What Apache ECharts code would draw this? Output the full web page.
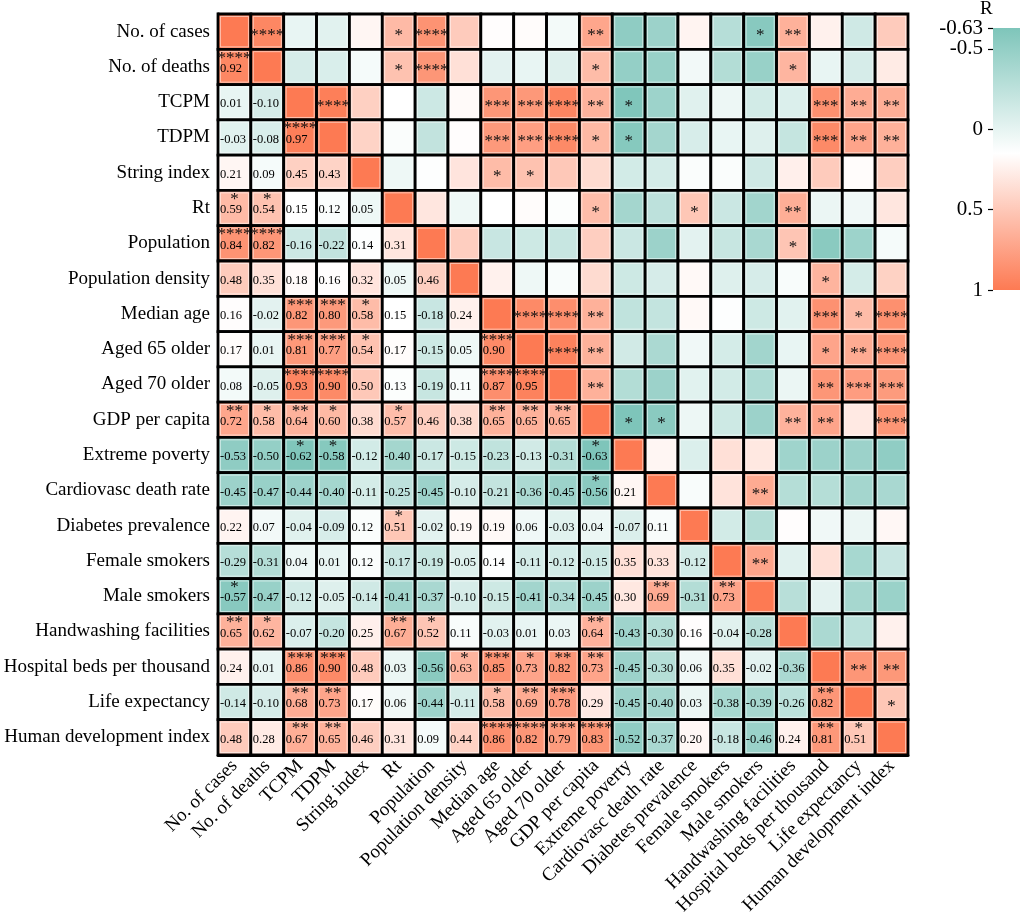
<!DOCTYPE html>
<html>
<head>
<meta charset="utf-8">
<script src="https://cdn.jsdelivr.net/npm/echarts@6/dist/echarts.min.js"></script>
<style>
  html, body { margin: 0; padding: 0; background: #fff; }
  #chart { width: 1021px; height: 920px; }
</style>
</head>
<body>
<div id="chart"></div>
<script>
var names = ['No. of cases', 'No. of deaths', 'TCPM', 'TDPM', 'String index', 'Rt',
    'Population', 'Population density', 'Median age', 'Aged 65 older', 'Aged 70 older',
    'GDP per capita', 'Extreme poverty', 'Cardiovasc death rate', 'Diabetes prevalence',
    'Female smokers', 'Male smokers', 'Handwashing facilities', 'Hospital beds per thousand',
    'Life expectancy', 'Human development index'];

// lower triangle, row i holds r with columns 0..i-1
var lowerR = [
    [],
    [0.92],
    [0.01, -0.10],
    [-0.03, -0.08, 0.97],
    [0.21, 0.09, 0.45, 0.43],
    [0.59, 0.54, 0.15, 0.12, 0.05],
    [0.84, 0.82, -0.16, -0.22, 0.14, 0.31],
    [0.48, 0.35, 0.18, 0.16, 0.32, 0.05, 0.46],
    [0.16, -0.02, 0.82, 0.80, 0.58, 0.15, -0.18, 0.24],
    [0.17, 0.01, 0.81, 0.77, 0.54, 0.17, -0.15, 0.05, 0.90],
    [0.08, -0.05, 0.93, 0.90, 0.50, 0.13, -0.19, 0.11, 0.87, 0.95],
    [0.72, 0.58, 0.64, 0.60, 0.38, 0.57, 0.46, 0.38, 0.65, 0.65, 0.65],
    [-0.53, -0.50, -0.62, -0.58, -0.12, -0.40, -0.17, -0.15, -0.23, -0.13, -0.31, -0.63],
    [-0.45, -0.47, -0.44, -0.40, -0.11, -0.25, -0.45, -0.10, -0.21, -0.36, -0.45, -0.56, 0.21],
    [0.22, 0.07, -0.04, -0.09, 0.12, 0.51, -0.02, 0.19, 0.19, 0.06, -0.03, 0.04, -0.07, 0.11],
    [-0.29, -0.31, 0.04, 0.01, 0.12, -0.17, -0.19, -0.05, 0.14, -0.11, -0.12, -0.15, 0.35, 0.33, -0.12],
    [-0.57, -0.47, -0.12, -0.05, -0.14, -0.41, -0.37, -0.10, -0.15, -0.41, -0.34, -0.45, 0.30, 0.69, -0.31, 0.73],
    [0.65, 0.62, -0.07, -0.20, 0.25, 0.67, 0.52, 0.11, -0.03, 0.01, 0.03, 0.64, -0.43, -0.30, 0.16, -0.04, -0.28],
    [0.24, 0.01, 0.86, 0.90, 0.48, 0.03, -0.56, 0.63, 0.85, 0.73, 0.82, 0.73, -0.45, -0.30, 0.06, 0.35, -0.02, -0.36],
    [-0.14, -0.10, 0.68, 0.73, 0.17, 0.06, -0.44, -0.11, 0.58, 0.69, 0.78, 0.29, -0.45, -0.40, 0.03, -0.38, -0.39, -0.26, 0.82],
    [0.48, 0.28, 0.67, 0.65, 0.46, 0.31, 0.09, 0.44, 0.86, 0.82, 0.79, 0.83, -0.52, -0.37, 0.20, -0.18, -0.46, 0.24, 0.81, 0.51]
];

// number of significance stars, same layout as lowerR
var lowerStars = [
    [],
    [4],
    [0, 0],
    [0, 0, 4],
    [0, 0, 0, 0],
    [1, 1, 0, 0, 0],
    [4, 4, 0, 0, 0, 0],
    [0, 0, 0, 0, 0, 0, 0],
    [0, 0, 3, 3, 1, 0, 0, 0],
    [0, 0, 3, 3, 1, 0, 0, 0, 4],
    [0, 0, 4, 4, 0, 0, 0, 0, 4, 4],
    [2, 1, 2, 1, 0, 1, 0, 0, 2, 2, 2],
    [0, 0, 1, 1, 0, 0, 0, 0, 0, 0, 0, 1],
    [0, 0, 0, 0, 0, 0, 0, 0, 0, 0, 0, 1, 0],
    [0, 0, 0, 0, 0, 1, 0, 0, 0, 0, 0, 0, 0, 0],
    [0, 0, 0, 0, 0, 0, 0, 0, 0, 0, 0, 0, 0, 0, 0],
    [1, 0, 0, 0, 0, 0, 0, 0, 0, 0, 0, 0, 0, 2, 0, 2],
    [2, 1, 0, 0, 0, 2, 1, 0, 0, 0, 0, 2, 0, 0, 0, 0, 0],
    [0, 0, 3, 3, 0, 0, 0, 1, 3, 1, 2, 2, 0, 0, 0, 0, 0, 0],
    [0, 0, 2, 2, 0, 0, 0, 0, 1, 2, 3, 0, 0, 0, 0, 0, 0, 0, 2],
    [0, 0, 2, 2, 0, 0, 0, 0, 4, 4, 3, 4, 0, 0, 0, 0, 0, 0, 2, 1]
];

var barTicks = [-0.63, -0.5, 0, 0.5, 1];
var rMin = -0.63, rMax = 1;

// colour stops of the scale
var colorStops = [[-0.63, [126, 197, 186]], [0.15, [255, 255, 255]], [1, [253, 122, 83]]];

function colorOf(r) {
    var s = colorStops;
    if (r <= s[0][0]) return 'rgb(' + s[0][1].join(',') + ')';
    for (var k = 1; k < s.length; k++) {
        if (r <= s[k][0]) {
            var t = (r - s[k - 1][0]) / (s[k][0] - s[k - 1][0]);
            var a = s[k - 1][1], b = s[k][1];
            return 'rgb(' + [0, 1, 2].map(function (q) {
                return Math.round(a[q] + (b[q] - a[q]) * t);
            }).join(',') + ')';
        }
    }
    return 'rgb(' + s[s.length - 1][1].join(',') + ')';
}

var cells = [];
for (var i = 0; i < names.length; i++) {
    for (var j = 0; j < names.length; j++) {
        var r, n, kind;
        if (i === j) { r = 1; n = 0; kind = 0; }
        else if (i > j) { r = lowerR[i][j]; n = lowerStars[i][j]; kind = 1; }
        else { r = lowerR[j][i]; n = lowerStars[j][i]; kind = 2; }
        cells.push([j, i, r, n, kind]);
    }
}

var serif = '"Liberation Serif", "Times New Roman", serif';

function renderCell(params, api) {
    var r = api.value(2), n = api.value(3), kind = api.value(4);
    var c = api.coord([api.value(0), api.value(1)]);
    var sz = api.size([1, 1]);
    var w = sz[0], h = sz[1];
    var x0 = c[0] - w / 2, y0 = c[1] - h / 2;
    var kids = [
        {type: 'rect', shape: {x: x0, y: y0, width: w, height: h},
            style: {fill: colorOf(r), stroke: '#000', lineWidth: 2.8}},
        {type: 'rect', shape: {x: x0 + 2.4, y: y0 + 2.4, width: w - 4.8, height: h - 4.8},
            style: {fill: null, stroke: 'rgba(255,255,255,0.55)', lineWidth: 1}}
    ];
    var stars = new Array(n + 1).join('*');
    if (kind === 1) {
        kids.push({type: 'text', style: {text: r.toFixed(2), x: x0 + 2, y: c[1] + 2,
            font: '12.5px ' + serif, fill: '#000', align: 'left', verticalAlign: 'middle'}});
        if (n) {
            kids.push({type: 'text', style: {text: stars, x: c[0], y: y0 + 9,
                font: '17px ' + serif, fill: '#111', align: 'center', verticalAlign: 'middle'}});
        }
    } else if (kind === 2 && n) {
        kids.push({type: 'text', style: {text: stars, x: c[0], y: c[1] + 4,
            font: '17px ' + serif, fill: '#111', align: 'center', verticalAlign: 'middle'}});
    }
    return {type: 'group', children: kids};
}

function renderBar(params, api) {
    var p0 = api.coord([0, rMin]);
    var p1 = api.coord([1, rMax]);
    var stops = colorStops.map(function (s) {
        return {offset: (s[0] - rMin) / (rMax - rMin), color: 'rgb(' + s[1].join(',') + ')'};
    });
    return {type: 'rect',
        shape: {x: p0[0], y: Math.min(p0[1], p1[1]), width: p1[0] - p0[0], height: Math.abs(p1[1] - p0[1])},
        style: {fill: new echarts.graphic.LinearGradient(0, 0, 0, 1, stops)}};
}

var chart = echarts.init(document.getElementById('chart'));
chart.setOption({
    animation: false,
    title: {text: 'R', left: 980, top: 0, padding: 0,
        textStyle: {fontFamily: serif, fontSize: 19, fontWeight: 'normal', color: '#000'}},
    grid: [
        {left: 218, top: 14, width: 690, height: 741},
        {left: 993, top: 28, width: 27, height: 262}
    ],
    xAxis: [
        {type: 'category', data: names, gridIndex: 0,
            axisLine: {lineStyle: {color: '#000', width: 2.8}},
            axisTick: {alignWithLabel: true, length: 5, lineStyle: {color: '#000', width: 1.5}},
            axisLabel: {interval: 0, rotate: 45, margin: 8, color: '#000', fontSize: 19, fontFamily: serif},
            splitLine: {show: false}},
        {type: 'value', gridIndex: 1, min: 0, max: 1, show: false}
    ],
    yAxis: [
        {type: 'category', data: names, gridIndex: 0, inverse: true,
            axisLine: {lineStyle: {color: '#000', width: 2.8}},
            axisTick: {alignWithLabel: true, length: 5, lineStyle: {color: '#000', width: 1.5}},
            axisLabel: {interval: 0, margin: 8, color: '#000', fontSize: 19, fontFamily: serif},
            splitLine: {show: false}},
        {type: 'value', gridIndex: 1, min: rMin, max: rMax, inverse: true, position: 'left',
            axisLine: {show: false},
            axisTick: {show: true, length: 5, customValues: barTicks, lineStyle: {color: '#000', width: 1.2}},
            axisLabel: {customValues: barTicks, margin: 10, color: '#000', fontSize: 21, fontFamily: serif},
            splitLine: {show: false}}
    ],
    series: [
        {type: 'custom', xAxisIndex: 0, yAxisIndex: 0, renderItem: renderCell, data: cells},
        {type: 'custom', xAxisIndex: 1, yAxisIndex: 1, renderItem: renderBar, data: [[0, 0]]}
    ]
});
</script>
</body>
</html>
